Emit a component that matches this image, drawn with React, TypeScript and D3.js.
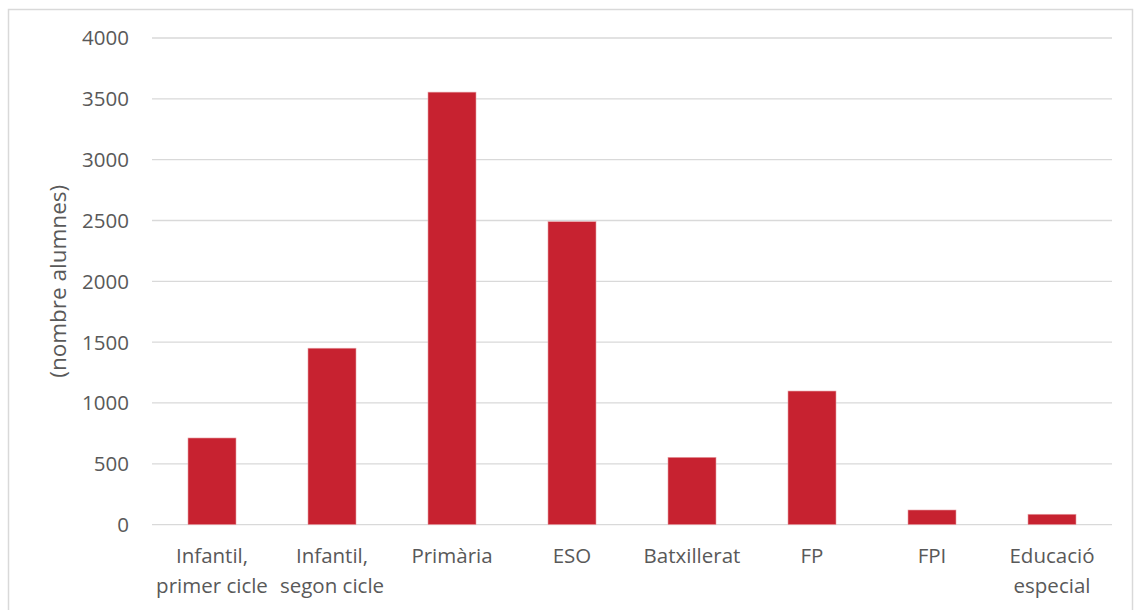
import React from "react";
import * as d3 from "d3";

const categories: string[][] = [
  ["Infantil,", "primer cicle"],
  ["Infantil,", "segon cicle"],
  ["Primària"],
  ["ESO"],
  ["Batxillerat"],
  ["FP"],
  ["FPI"],
  ["Educació", "especial"],
];
const values: number[] = [712, 1450, 3555, 2490, 553, 1098, 120, 85];
const yTicks: number[] = [0, 500, 1000, 1500, 2000, 2500, 3000, 3500, 4000];
const yTitle = "(nombre alumnes)";

const W = 1134;
const H = 610;
const left = 152;
const right = 1112;
const top = 38;
const bottom = 524.6;
const font = "'Open Sans', sans-serif";
const textColor = "#595959";
const fs = 20.5;

export default function App() {
  const x = d3
    .scaleBand<number>()
    .domain(categories.map((_, i) => i))
    .range([left, right])
    .paddingInner(0.6)
    .paddingOuter(0.3);
  const y = d3.scaleLinear().domain([0, 4000]).range([bottom, top]);

  return (
    <svg
      width={W}
      height={H}
      style={{ position: "absolute", left: 0, top: 0, background: "#fff" }}
    >
      <rect x={8.5} y={9.5} width={1124} height={620} fill="#fff" stroke="#d9d9d9" strokeWidth={1.5} />
      {yTicks.map((t) => (
        <g key={t}>
          <line x1={left} x2={right} y1={y(t)} y2={y(t)} stroke="#d9d9d9" strokeWidth={1.3} />
          <text
            x={129}
            y={y(t)}
            dy="0.36em"
            textAnchor="end"
            fontFamily={font}
            fontSize={fs}
            fill={textColor}
          >
            {t}
          </text>
        </g>
      ))}
      {values.map((v, i) => (
        <rect
          key={i}
          x={x(i)}
          y={y(v)}
          width={x.bandwidth()}
          height={y(0) - y(v)}
          fill="#C72230"
          stroke="#e8a0a6"
          strokeWidth={0.6}
        />
      ))}
      {categories.map((lines, i) => (
        <text
          key={i}
          x={(x(i) as number) + x.bandwidth() / 2}
          y={563}
          textAnchor="middle"
          fontFamily={font}
          fontSize={fs}
          fill={textColor}
        >
          {lines.map((l, j) => (
            <tspan key={j} x={(x(i) as number) + x.bandwidth() / 2} dy={j === 0 ? 0 : 30}>
              {l}
            </tspan>
          ))}
        </text>
      ))}
      <text
        transform={`translate(66,${(top + bottom) / 2}) rotate(-90)`}
        textAnchor="middle"
        fontFamily={font}
        fontSize={22.5}
        fill={textColor}
      >
        {yTitle}
      </text>
    </svg>
  );
}
